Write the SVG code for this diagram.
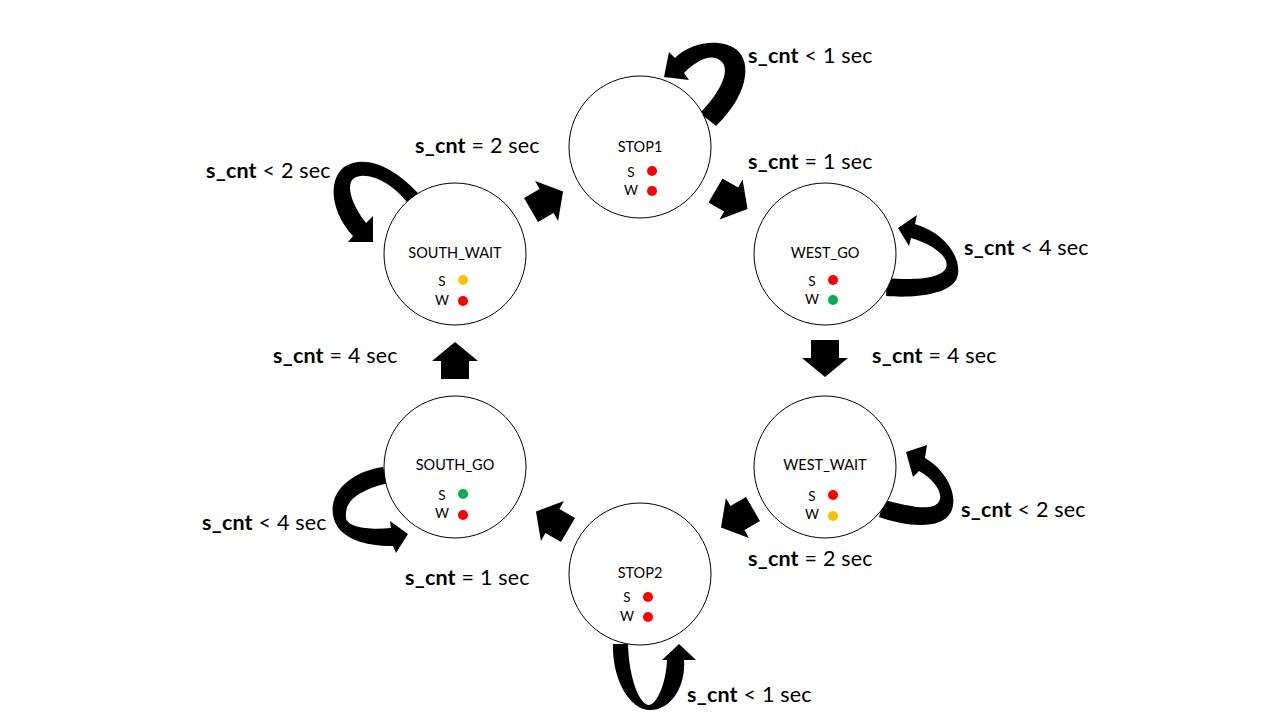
<svg xmlns="http://www.w3.org/2000/svg" xmlns:xlink="http://www.w3.org/1999/xlink" width="1280" height="720" viewBox="0 0 1280 720">
<style>
.st{fill:#fff;stroke:#000;stroke-width:1}
.nm{font-family:Lato,"Liberation Sans",sans-serif;font-size:14.5px;fill:#000;text-anchor:middle}
.sm{font-family:Lato,"Liberation Sans",sans-serif;font-size:13.5px;fill:#000;text-anchor:middle}
.lb{font-family:Lato,"Liberation Sans",sans-serif;font-size:21.5px;letter-spacing:0.2px;fill:#000}
.lb .b{font-weight:bold}
.r{fill:#ff0000}.y{fill:#ffc000}.g{fill:#00b050}
.ar{fill:#000}
</style>
<defs>
<path id="blk" d="M0,-14 L18,-14 L18,-23 L37,0 L18,23 L18,14 L0,14 Z"/>
</defs>
<rect width="1280" height="720" fill="#fff"/>
<g id="connectors" class="ar">
<use xlink:href="#blk" href="#blk" transform="translate(455,379) rotate(-90)"/>
<use xlink:href="#blk" href="#blk" transform="translate(825,340) rotate(90)"/>
<use xlink:href="#blk" href="#blk" transform="translate(531,210) rotate(-30)"/>
<use xlink:href="#blk" href="#blk" transform="translate(715.5,190.5) rotate(30)"/>
<use xlink:href="#blk" href="#blk" transform="translate(753,509) rotate(150)"/>
<use xlink:href="#blk" href="#blk" transform="translate(568,530) rotate(-150)"/>
<path id="loop-stop1" d="M700,113 C718,95 731,72 722,62 C712,52 697,60 684,73 L689,80 L664,77 L669,52 L675,58 C690,43 720,37 737,50 C752,63 748,95 716,126 Z"/>
<path id="loop-southwait" d="M418,193 C395,168 365,153 344,167 C326,182 333,215 353,236 L348,242 L373,242 L373,216 L366,223 C352,205 346,186 353,179 C365,170 390,181 407,202 Z"/>
<path id="loop-westgo" d="M886,296 C910,298 946,296 956,280 C964,265 951,235 915,224 L917,215 L898,228 L909,246 L911,238 C935,245 950,258 946,268 C940,280 910,280 887,278 Z"/>
<path id="loop-westwait" d="M879,517 C905,526 941,531 951,512 C959,495 946,470 925,458 L927,445 L906,452 L913,477 L919,471 C935,480 945,495 938,503 C930,512 905,505 884,500 Z"/>
<path id="loop-southgo" d="M383,467 C354,471 329,490 333,515 C337,539 365,546 393,546 L396,553 L408,534 L390,521 L391,528 C370,530 348,528 346,518 C344,500 360,490 388,483 Z"/>
<path id="loop-stop2" d="M613,644 C612,680 630,710 650,710 C672,710 686,685 684,660 L696,660 L679,644 L662,660 L667,660 C666,685 656,705 649,705 C640,705 629,680 628,644 Z"/>
</g>
<g id="node-stop1">
<circle class="st" cx="640" cy="147" r="71"/>
<text class="nm" x="640" y="152">STOP1</text>
<text class="sm" x="631" y="177">S</text><circle class="r" cx="652" cy="171" r="5"/>
<text class="sm" x="631" y="195">W</text><circle class="r" cx="652" cy="191" r="5"/>
</g>
<g id="node-southwait">
<circle class="st" cx="455" cy="254" r="71"/>
<text class="nm" x="455" y="258">SOUTH_WAIT</text>
<text class="sm" x="442" y="286">S</text><circle class="y" cx="463" cy="280" r="5"/>
<text class="sm" x="442" y="305">W</text><circle class="r" cx="463" cy="301" r="5"/>
</g>
<g id="node-westgo">
<circle class="st" cx="825" cy="254" r="71"/>
<text class="nm" x="825" y="258">WEST_GO</text>
<text class="sm" x="812" y="286">S</text><circle class="r" cx="833" cy="280" r="5"/>
<text class="sm" x="812" y="304">W</text><circle class="g" cx="833" cy="300" r="5"/>
</g>
<g id="node-westwait">
<circle class="st" cx="825" cy="467" r="71"/>
<text class="nm" x="825" y="470">WEST_WAIT</text>
<text class="sm" x="812" y="501">S</text><circle class="r" cx="833" cy="495" r="5"/>
<text class="sm" x="812" y="519">W</text><circle class="y" cx="833" cy="516" r="5"/>
</g>
<g id="node-southgo">
<circle class="st" cx="455" cy="467" r="71"/>
<text class="nm" x="455" y="470">SOUTH_GO</text>
<text class="sm" x="442" y="500">S</text><circle class="g" cx="463" cy="494" r="5"/>
<text class="sm" x="442" y="518">W</text><circle class="r" cx="463" cy="515" r="5"/>
</g>
<g id="node-stop2">
<circle class="st" cx="640" cy="574" r="71"/>
<text class="nm" x="640" y="578">STOP2</text>
<text class="sm" x="627" y="602">S</text><circle class="r" cx="648" cy="597" r="5"/>
<text class="sm" x="627" y="621">W</text><circle class="r" cx="648" cy="617" r="5"/>
</g>
<g id="labels" class="lb">
<text x="748" y="63"><tspan class="b">s_cnt</tspan> &lt; 1 sec</text>
<text x="415" y="153"><tspan class="b">s_cnt</tspan> = 2 sec</text>
<text x="206" y="178"><tspan class="b">s_cnt</tspan> &lt; 2 sec</text>
<text x="748" y="169"><tspan class="b">s_cnt</tspan> = 1 sec</text>
<text x="964" y="255"><tspan class="b">s_cnt</tspan> &lt; 4 sec</text>
<text x="273" y="363"><tspan class="b">s_cnt</tspan> = 4 sec</text>
<text x="872" y="363"><tspan class="b">s_cnt</tspan> = 4 sec</text>
<text x="961" y="517"><tspan class="b">s_cnt</tspan> &lt; 2 sec</text>
<text x="202" y="530"><tspan class="b">s_cnt</tspan> &lt; 4 sec</text>
<text x="748" y="566"><tspan class="b">s_cnt</tspan> = 2 sec</text>
<text x="405" y="585"><tspan class="b">s_cnt</tspan> = 1 sec</text>
<text x="687" y="702"><tspan class="b">s_cnt</tspan> &lt; 1 sec</text>
</g>
</svg>
